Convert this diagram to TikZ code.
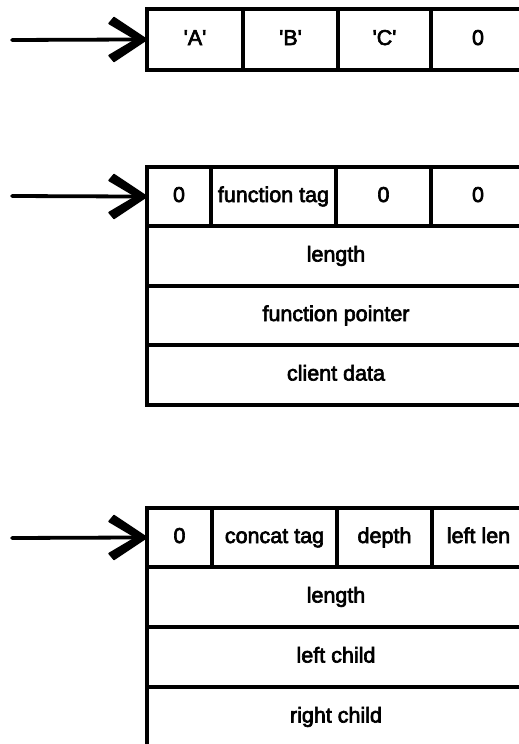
\documentclass[tikz,border=0pt]{standalone}
\usepackage{fontspec}
\newfontfamily\lbl{Liberation Sans}[FakeBold=3]
\tikzset{
  cellbox/.style={draw=black, line width=3.5pt, inner sep=0pt, outer sep=0pt,
    anchor=north west, text height=16pt, text depth=5pt,
    font=\lbl\fontsize{21.5}{24}\selectfont},
  shaft/.style={line width=3.8pt, line cap=round},
  barb/.style={fill=black, draw=black, line width=1.5pt, line join=round},
}
\newcommand{\qt}[1]{\textquotesingle#1\textquotesingle}
\newcommand{\headat}[1]{%
  \path[barb] (#1) -- ++(-33,-22) -- ++(-5,6) -- ++(27,16) -- ++(-27,16)
    -- ++(5,6) -- cycle;}
\begin{document}
\begin{tikzpicture}[x=1pt,y=-1pt]
\useasboundingbox (0,0) rectangle (519,744);
\clip (0,0) rectangle (519,744);
% structure 1: flat string
\node[cellbox, minimum width=96pt, minimum height=61pt] (a1) at (147,9) {\qt{A}};
\node[cellbox, minimum width=95pt, minimum height=61pt] (a2) at (243,9) {\qt{B}};
\node[cellbox, minimum width=93pt, minimum height=61pt] (a3) at (338,9) {\qt{C}};
\node[cellbox, minimum width=94pt, minimum height=61pt] (a4) at (431,9) {0};
\coordinate (s1) at (12,40);
\draw[shaft] (s1) -- ([xshift=-14pt]a1.west);
\headat{a1.west}
% structure 2: function node
\node[cellbox, minimum width=64pt, minimum height=59pt] (f1) at (147,167) {0};
\node[cellbox, minimum width=125pt, minimum height=59pt] (f2) at (211,167) {function tag};
\node[cellbox, minimum width=95pt, minimum height=59pt] (f3) at (336,167) {0};
\node[cellbox, minimum width=94pt, minimum height=59pt] (f4) at (431,167) {0};
\node[cellbox, minimum width=378pt, minimum height=60pt] (f5) at (147,226) {length};
\node[cellbox, minimum width=378pt, minimum height=59pt] (f6) at (147,286) {function pointer};
\node[cellbox, minimum width=378pt, minimum height=60pt] (f7) at (147,345) {client data};
\coordinate (s2) at (12,196);
\draw[shaft] (s2) -- ([xshift=-14pt]f1.west);
\headat{f1.west}
% structure 3: concatenation node
\node[cellbox, minimum width=65pt, minimum height=59pt] (c1) at (147,508) {0};
\node[cellbox, minimum width=125pt, minimum height=59pt] (c2) at (212,508) {concat tag};
\node[cellbox, minimum width=95pt, minimum height=59pt] (c3) at (337,508) {depth};
\node[cellbox, minimum width=93pt, minimum height=59pt] (c4) at (432,508) {left len};
\node[cellbox, minimum width=378pt, minimum height=60pt] (c5) at (147,567) {length};
\node[cellbox, minimum width=378pt, minimum height=60pt] (c6) at (147,627) {left child};
\node[cellbox, minimum width=378pt, minimum height=60pt] (c7) at (147,687) {right child};
\coordinate (s3) at (12,538);
\draw[shaft] (s3) -- ([xshift=-14pt]c1.west);
\headat{c1.west}
\end{tikzpicture}
\end{document}
